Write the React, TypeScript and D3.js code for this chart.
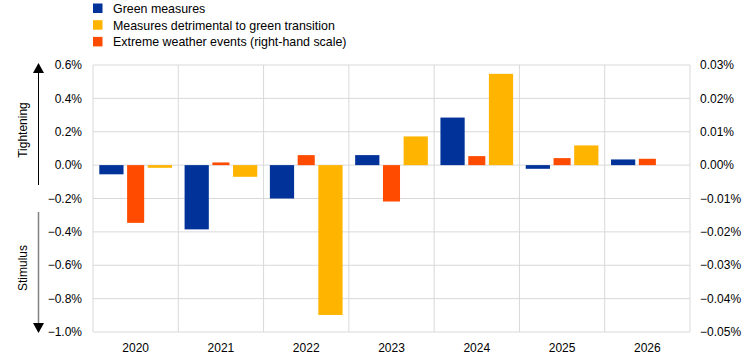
import React from "react";
import * as d3 from "d3";

const categories = ["2020", "2021", "2022", "2023", "2024", "2025", "2026"];
const greenMeasures = [-0.055, -0.385, -0.2, 0.06, 0.285, -0.022, 0.034];
const detrimentalMeasures = [-0.016, -0.07, -0.898, 0.172, 0.547, 0.118, 0];
const extremeWeather = [-0.0173, 0.0008, 0.003, -0.0109, 0.0027, 0.0021, 0.0019];
const leftTicks = [0.6, 0.4, 0.2, 0.0, -0.2, -0.4, -0.6, -0.8, -1.0];
const rightTicks = [0.03, 0.02, 0.01, 0.0, -0.01, -0.02, -0.03, -0.04, -0.05];
const legendLabels = [
  "Green measures",
  "Measures detrimental to green transition",
  "Extreme weather events (right-hand scale)",
];

const BLUE = "#003299";
const YELLOW = "#FFB400";
const RED = "#FF4B00";
const GRID = "#d9d9d9";
const FONT = "Arial, 'Liberation Sans', sans-serif";

export default function App() {
  const W = 744, H = 359;
  const left = 93, right = 690, top = 65, bottom = 332;

  const x = d3.scaleBand<string>().domain(categories).range([left, right]).padding(0);
  const bw = x.bandwidth();
  const xPrim = d3.scaleBand<string>().domain(["green", "mid", "detr"]).range([0, bw]).paddingInner(0).paddingOuter(0.26);
  const xSec = d3.scaleBand<string>().domain(["ext"]).range([0, bw]).paddingInner(0).paddingOuter(2);

  const yL = d3.scaleLinear().domain([-1.0, 0.6]).range([bottom, top]);
  const yR = d3.scaleLinear().domain([-0.05, 0.03]).range([bottom, top]);

  const bar = (cx: number, w: number, v: number, y: d3.ScaleLinear<number, number>, color: string, key: string) => {
    const y0 = y(0), y1 = y(v);
    return <rect key={key} x={cx} width={w} y={Math.min(y0, y1)} height={Math.abs(y1 - y0)} fill={color} />;
  };

  return (
    <svg width={W} height={H} style={{ position: "absolute", left: 0, top: 0 }} fontFamily={FONT}>
      <rect width={W} height={H} fill="#fff" />
      {/* Legend */}
      {legendLabels.map((l, i) => (
        <g key={l}>
          <rect x={93} y={3.5 + i * 16.7} width={9.5} height={9.5} fill={[BLUE, YELLOW, RED][i]} />
          <text x={113} y={8.5 + i * 16.7} dy="0.35em" fontSize={12.4} fill="#000">{l}</text>
        </g>
      ))}
      {/* Horizontal gridlines */}
      {leftTicks.map((t) => (
        <line key={t} x1={left} x2={right} y1={yL(t)} y2={yL(t)} stroke={GRID} strokeWidth={1} />
      ))}
      {/* Vertical gridlines */}
      {categories.map((c) => (
        <line key={c} x1={x(c)!} x2={x(c)!} y1={top} y2={bottom} stroke={GRID} strokeWidth={1} />
      ))}
      <line x1={right} x2={right} y1={top} y2={bottom} stroke={GRID} strokeWidth={1} />
      {/* Bars */}
      {categories.map((c, i) => (
        <g key={c}>
          {bar(x(c)! + xPrim("green")!, xPrim.bandwidth(), greenMeasures[i], yL, BLUE, "g")}
          {bar(x(c)! + xPrim("detr")!, xPrim.bandwidth(), detrimentalMeasures[i], yL, YELLOW, "d")}
          {bar(x(c)! + xSec("ext")!, xSec.bandwidth(), extremeWeather[i], yR, RED, "e")}
        </g>
      ))}
      {/* Left ticks */}
      {leftTicks.map((t) => (
        <text key={t} x={82} y={yL(t)} dy="0.35em" textAnchor="end" fontSize={12} fill="#000">
          {d3.format(".1f")(t)}%
        </text>
      ))}
      {/* Right ticks */}
      {rightTicks.map((t) => (
        <text key={t} x={700} y={yR(t)} dy="0.35em" textAnchor="start" fontSize={12} fill="#000">
          {d3.format(".2f")(t)}%
        </text>
      ))}
      {/* X labels */}
      {categories.map((c) => (
        <text key={c} x={x(c)! + bw / 2} y={348} dy="0.35em" textAnchor="middle" fontSize={12} fill="#000">
          {c}
        </text>
      ))}
      {/* Arrows */}
      <line x1={38.5} x2={38.5} y1={185} y2={72} stroke="#000" strokeWidth={1} />
      <path d="M38.5,63 L33,73 L44,73 Z" fill="#000" />
      <line x1={38.5} x2={38.5} y1={212} y2={323} stroke="#808080" strokeWidth={1.5} />
      <path d="M38.5,333 L33,323 L44,323 Z" fill="#000" />
      <text transform="translate(23,130) rotate(-90)" textAnchor="middle" dy="0.35em" fontSize={12} fill="#000">Tightening</text>
      <text transform="translate(23,268) rotate(-90)" textAnchor="middle" dy="0.35em" fontSize={12} fill="#000">Stimulus</text>
    </svg>
  );
}
